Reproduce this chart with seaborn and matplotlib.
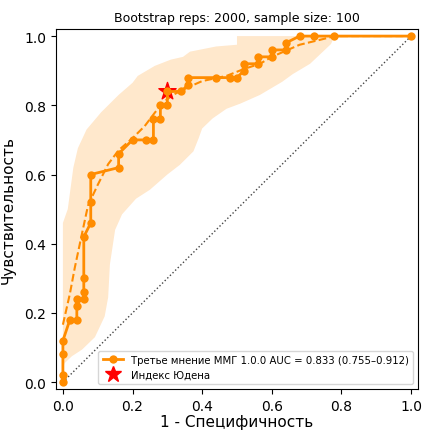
import numpy as np
import pandas as pd
import matplotlib
matplotlib.use("Agg")
import matplotlib.pyplot as plt
import seaborn as sns
from matplotlib.lines import Line2D

# ROC curve (empirical)
fpr = [0, 0, 0, 0, 0.02, 0.04, 0.04, 0.04, 0.06, 0.06, 0.06, 0.06, 0.08, 0.08, 0.08,
       0.16, 0.16, 0.20, 0.24, 0.26, 0.26, 0.28, 0.28, 0.30, 0.30, 0.34, 0.36, 0.36,
       0.44, 0.48, 0.50, 0.52, 0.52, 0.56, 0.56, 0.60, 0.60, 0.64, 0.64, 0.68, 0.72,
       0.78, 1.0]
tpr = [0, 0.02, 0.08, 0.12, 0.18, 0.18, 0.22, 0.24, 0.24, 0.26, 0.30, 0.42, 0.46, 0.52,
       0.60, 0.62, 0.66, 0.70, 0.70, 0.70, 0.76, 0.76, 0.80, 0.80, 0.84, 0.84, 0.86,
       0.88, 0.88, 0.88, 0.88, 0.90, 0.92, 0.92, 0.94, 0.94, 0.96, 0.96, 0.98, 1.0,
       1.0, 1.0, 1.0]

# Bootstrap mean ROC
mean_fpr = [0, 0.02, 0.034, 0.055, 0.072, 0.10, 0.13, 0.16, 0.20, 0.235, 0.265, 0.29,
            0.316, 0.355, 0.40, 0.47, 0.52, 0.566, 0.60, 0.68, 0.77, 0.80, 1.0]
mean_tpr = [0.166, 0.255, 0.33, 0.43, 0.51, 0.57, 0.63, 0.67, 0.705, 0.74, 0.78, 0.81,
            0.83, 0.85, 0.87, 0.885, 0.905, 0.92, 0.94, 0.975, 0.997, 1.0, 1.0]

# Confidence band edges
upper_fpr = [0, 0, 0.014, 0.03, 0.043, 0.068, 0.11, 0.16, 0.20, 0.215, 0.264, 0.31,
             0.345, 0.365, 0.44, 0.50, 0.50, 0.78]
upper_tpr = [0.04, 0.46, 0.50, 0.62, 0.676, 0.73, 0.78, 0.83, 0.865, 0.885, 0.914, 0.932,
             0.94, 0.955, 0.97, 0.975, 1.0, 1.0]
lower_fpr = [0, 0.005, 0.026, 0.055, 0.092, 0.12, 0.13, 0.135, 0.15, 0.17, 0.21, 0.25,
             0.30, 0.336, 0.375, 0.39, 0.40, 0.43, 0.47, 0.51, 0.566, 0.63, 0.66, 0.71,
             0.77, 0.78]
lower_tpr = [0.04, 0.055, 0.075, 0.094, 0.13, 0.19, 0.245, 0.34, 0.44, 0.485, 0.53, 0.556,
             0.60, 0.628, 0.667, 0.705, 0.733, 0.762, 0.79, 0.805, 0.83, 0.868, 0.89,
             0.92, 0.977, 1.0]

youden_fpr = [0.30]
youden_tpr = [0.84]

title = "Bootstrap reps: 2000, sample size: 100"
label_roc = "Третье мнение ММГ 1.0.0 AUC = 0.833 (0.755–0.912)"
label_youden = "Индекс Юдена"

fig = plt.figure(figsize=(4.27, 4.31), dpi=100)
ax = fig.add_axes([0.131, 0.095, 0.848, 0.835])

orange = "#ff8c00"

poly_x = np.r_[upper_fpr, lower_fpr[::-1]]
poly_y = np.r_[upper_tpr, lower_tpr[::-1]]
ax.fill(poly_x, poly_y, color=orange, alpha=0.2, lw=0, zorder=1)

ax.plot([0, 1], [0, 1], linestyle=":", color="#444444", lw=1, zorder=2)

sns.lineplot(x=mean_fpr, y=mean_tpr, ax=ax, color=orange, linestyle="--", lw=1.5,
             sort=False, estimator=None, zorder=3)

ax.scatter(youden_fpr, youden_tpr, marker="*", s=170, color="red", zorder=4)

df = pd.DataFrame({"fpr": fpr, "tpr": tpr})
sns.lineplot(data=df, x="fpr", y="tpr", ax=ax, color=orange, lw=2, marker="o",
             markersize=6, markeredgewidth=0, sort=False, estimator=None, zorder=5)

ax.set_xlim(-0.02, 1.02)
ax.set_ylim(-0.02, 1.02)
ax.set_xticks([0, 0.2, 0.4, 0.6, 0.8, 1.0])
ax.set_yticks([0, 0.2, 0.4, 0.6, 0.8, 1.0])
ax.tick_params(labelsize=10)
ax.set_xlabel("1 - Специфичность", fontsize=11, labelpad=1)
ax.set_ylabel("Чувствительность", fontsize=11, labelpad=6)
ax.set_title(title, fontsize=9)

handles = [
    Line2D([], [], color=orange, lw=2, marker="o", markersize=6, markeredgewidth=0),
    Line2D([], [], color="red", lw=0, marker="*", markersize=12),
]
ax.legend(handles, [label_roc, label_youden], loc="lower right", fontsize=7.3)

fig.savefig("out.png", dpi=100)
